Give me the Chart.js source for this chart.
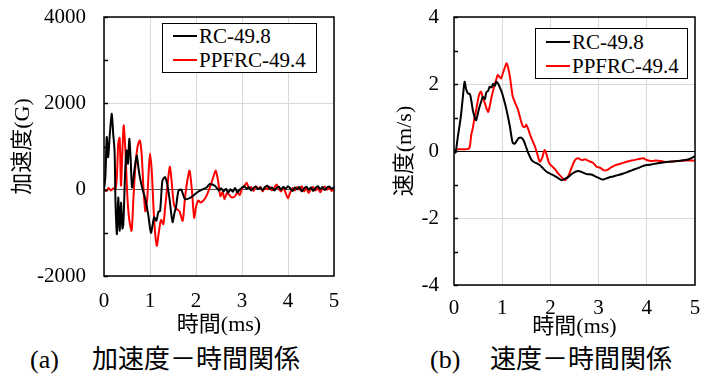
<!DOCTYPE html>
<html>
<head>
<meta charset="utf-8">
<script src="https://cdn.jsdelivr.net/npm/chart.js@4.4.1/dist/chart.umd.min.js"></script>
<style>
  body { margin: 0; background: #fff; width: 712px; height: 380px; position: relative; overflow: hidden;
         font-family: "Liberation Serif", "Noto Sans CJK JP", serif; color: #000; }
  canvas { position: absolute; top: 0; }
  #accChart { left: 0; }
  #velChart { left: 360px; }
  .legend { position: absolute; border: 1px solid #000; background: #fff; font-size: 21px; box-sizing: border-box; }
  .legend div { height: 24px; line-height: 24px; display: flex; align-items: center; white-space: nowrap; }
  .legend span.ln { display: inline-block; width: 24px; height: 2px; margin-right: 2px; }
  .cap { position: absolute; top: 344px; font-size: 26px; line-height: 32px; white-space: nowrap; }
</style>
</head>
<body>
<canvas id="accChart" width="350" height="340"></canvas>
<canvas id="velChart" width="350" height="340"></canvas>

<div class="legend" style="left:162px;top:23px;width:155px;height:50px;padding:0 0 0 10px;">
  <div><span class="ln" style="background:#000"></span>RC-49.8</div>
  <div><span class="ln" style="background:#ff0000"></span>PPFRC-49.4</div>
</div>
<div class="legend" style="left:535px;top:28px;width:153px;height:51px;padding:1px 0 0 10px;">
  <div><span class="ln" style="background:#000"></span>RC-49.8</div>
  <div><span class="ln" style="background:#ff0000"></span>PPFRC-49.4</div>
</div>

<div class="cap" style="left:30px;">(a)</div>
<div class="cap" style="left:92px;">加速度－時間関係</div>
<div class="cap" style="left:430px;">(b)</div>
<div class="cap" style="left:490px;">速度－時間関係</div>

<script>
// series labels
const seriesNames = ["RC-49.8", "PPFRC-49.4"];

// (a) acceleration (G) vs time (ms)
const accTimeRC = [0, 0.03, 0.06, 0.09, 0.13, 0.17, 0.2, 0.23, 0.25, 0.28, 0.31, 0.34, 0.37, 0.4, 0.42, 0.46, 0.49, 0.52, 0.55,
  0.58, 0.61, 0.66, 0.71, 0.75, 0.78, 0.84, 0.89, 0.96, 1.02, 1.06, 1.09, 1.14, 1.18, 1.22, 1.27, 1.33, 1.38, 1.42,
  1.49, 1.53, 1.57, 1.62, 1.68, 1.76, 1.85, 1.94, 2.03, 2.13, 2.23, 2.3, 2.41, 2.5, 2.55, 2.6,
  2.65, 2.7, 2.75, 2.8, 2.85, 2.9, 2.95, 3.0, 3.05, 3.1, 3.15, 3.2, 3.25, 3.3, 3.35, 3.4, 3.45, 3.5, 3.55, 3.6,
  3.65, 3.7, 3.75, 3.8, 3.85, 3.9, 3.95, 4.0, 4.05, 4.1, 4.15, 4.2, 4.25, 4.3, 4.35, 4.4, 4.45, 4.5, 4.55, 4.6,
  4.65, 4.7, 4.75, 4.8, 4.85, 4.9, 4.95, 5.0];
const accRC = [0, 300, 1220, 750, 1330, 1760, 1290, 900, -300, -1030, -180, -950, -300, -900, -800, 400, 910, 600, 1180,
  700, 50, 440, 790, 500, 290, 0, -180, -570, -1000, -800, -640, -720, -520, -490, 210, 290, 100, -180,
  -750, -550, -370, -20, 0, -220, -200, -140, -60, 0, 50, 130, 90, -20, 30, -40,
  20, -70, 10, -50, 40, -60, 0, 50, 80, 20, 60, -20, 40, 70, 10, 50, -10, 60, 90, 20,
  50, -20, 40, 70, 0, 60, 20, 80, 30, -30, 50, 10, 60, -40, 30, 70, 0, 50, -30, 40,
  80, 10, 60, -10, 50, 70, 20, 60];

const accTimePP = [0, 0.05, 0.1, 0.15, 0.2, 0.25, 0.28, 0.31, 0.34, 0.37, 0.4, 0.43, 0.47, 0.51, 0.55, 0.6, 0.64, 0.68, 0.73, 0.78,
  0.82, 0.86, 0.9, 0.94, 0.97, 1.0, 1.04, 1.08, 1.12, 1.15, 1.19, 1.24, 1.29, 1.33, 1.38, 1.43, 1.47, 1.52, 1.58, 1.64,
  1.71, 1.76, 1.81, 1.86, 1.91, 1.96, 2.0, 2.05, 2.1, 2.2, 2.3, 2.38, 2.43, 2.48, 2.53, 2.58, 2.62, 2.67, 2.72, 2.78,
  2.85, 2.9, 2.95, 3.0, 3.05, 3.1, 3.15, 3.2, 3.25, 3.3, 3.35, 3.4, 3.45, 3.5, 3.55, 3.6, 3.65, 3.7, 3.75, 3.8,
  3.85, 3.9, 3.95, 4.0, 4.05, 4.1, 4.15, 4.2, 4.25, 4.3, 4.35, 4.4, 4.45, 4.5, 4.55, 4.6, 4.65, 4.7, 4.75, 4.8,
  4.85, 4.9, 4.95, 5.0];
const accPP = [0, -30, 40, -20, 30, 20, 300, 1070, 1200, 100, 900, 1490, 800, -200, -700, -950, -200, 500, 1000, 1140,
  800, 0, -500, -200, 400, 840, 400, -500, -1100, -1300, -1000, -700, -800, -400, 100, 530, 200, -350, -450, -500,
  -720, -200, 200, 440, 0, -650, -400, -250, -300, -200, 50, 300, 440, 200, -150, -60, -220, -80, -120, -180,
  -150, -60, -120, 20, 80, 160, 40, 60, -30, 80, 20, 60, -40, 50, 10, 70, -20, 40, 120, 20,
  -40, 60, -80, -200, -60, 40, -20, 60, 0, 80, -40, 30, -80, 20, 60, -20, 40, -60, 30, 70,
  0, 50, -30, 40];

// (b) velocity (m/s) vs time (ms)
const velTimeRC = [0, 0.03, 0.05, 0.08, 0.12, 0.15, 0.19, 0.22, 0.25, 0.29, 0.33, 0.36, 0.39, 0.43, 0.46, 0.5, 0.53, 0.57, 0.6, 0.64,
  0.67, 0.71, 0.74, 0.78, 0.81, 0.85, 0.88, 0.92, 0.95, 0.98, 1.02, 1.06, 1.09, 1.13, 1.16, 1.19, 1.22, 1.26, 1.3, 1.35,
  1.4, 1.45, 1.5, 1.54, 1.6, 1.65, 1.72, 1.78, 1.85, 1.92, 2.0, 2.06, 2.15, 2.23, 2.3, 2.37, 2.45, 2.52, 2.58, 2.65,
  2.75, 2.85, 2.95, 3.05, 3.1, 3.2, 3.3, 3.4, 3.5, 3.58, 3.7, 3.8, 3.9, 4.0, 4.1, 4.2, 4.3, 4.4, 4.55, 4.7,
  4.8, 4.9, 5.0];
const velRC = [0, -0.05, 0.1, 0.43, 0.8, 1.13, 1.7, 2.07, 1.85, 1.72, 1.7, 1.5, 1.22, 1.0, 0.92, 1.15, 1.32, 1.5, 1.62, 1.55,
  1.75, 1.8, 1.92, 1.9, 2.0, 1.95, 2.07, 2.0, 1.9, 1.8, 1.62, 1.4, 1.22, 0.95, 0.73, 0.45, 0.24, 0.22, 0.3, 0.39,
  0.39, 0.3, 0.1, -0.06, -0.25, -0.32, -0.37, -0.42, -0.52, -0.62, -0.68, -0.72, -0.8, -0.87, -0.83, -0.78, -0.68, -0.62, -0.6, -0.63,
  -0.69, -0.7, -0.77, -0.84, -0.85, -0.8, -0.76, -0.72, -0.68, -0.64, -0.57, -0.52, -0.46, -0.42, -0.4, -0.37, -0.35, -0.33, -0.31, -0.29,
  -0.27, -0.23, -0.15];

const velTimePP = [0, 0.05, 0.1, 0.2, 0.3, 0.33, 0.36, 0.39, 0.42, 0.46, 0.5, 0.53, 0.56, 0.6, 0.64, 0.68, 0.71, 0.75, 0.78, 0.82,
  0.85, 0.88, 0.91, 0.95, 0.98, 1.02, 1.05, 1.09, 1.12, 1.16, 1.19, 1.22, 1.28, 1.33, 1.38, 1.43, 1.47, 1.5, 1.54, 1.58,
  1.63, 1.68, 1.73, 1.78, 1.83, 1.88, 1.92, 1.97, 2.03, 2.1, 2.16, 2.23, 2.3, 2.37, 2.44, 2.51, 2.58, 2.65, 2.72, 2.8,
  2.88, 2.96, 3.03, 3.1, 3.17, 3.25, 3.35, 3.45, 3.58, 3.7, 3.8, 3.93, 4.0, 4.1, 4.2, 4.3, 4.41, 4.6, 4.8, 5.0];
const velPP = [0, 0.05, 0.05, 0.05, 0.06, 0.15, 0.5, 0.68, 0.95, 1.22, 1.55, 1.72, 1.77, 1.6, 1.43, 1.25, 1.17, 1.4, 1.62, 1.85,
  2.02, 2.15, 2.27, 2.2, 2.17, 2.35, 2.47, 2.62, 2.5, 2.22, 1.9, 1.62, 1.4, 1.22, 0.95, 0.73, 0.72, 0.78, 0.65, 0.48,
  0.3, 0.13, -0.1, -0.32, -0.2, 0.03, -0.1, -0.35, -0.45, -0.55, -0.67, -0.78, -0.87, -0.75, -0.5, -0.27, -0.22, -0.27, -0.25, -0.3,
  -0.35, -0.47, -0.5, -0.57, -0.57, -0.5, -0.42, -0.38, -0.32, -0.28, -0.25, -0.22, -0.27, -0.3, -0.28, -0.3, -0.33, -0.3, -0.28, -0.29];

const timeTicks = [0, 1, 2, 3, 4, 5];

const toPoints = (xs, ys) => xs.map((x, i) => ({ x: x, y: ys[i] }));

// outer frame + short inward ticks on the y axis
const frame = {
  id: 'frame',
  afterDatasetsDraw(chart) {
    const { ctx, chartArea: a, scales } = chart;
    ctx.save();
    ctx.strokeStyle = '#000';
    ctx.lineWidth = 1.5;
    ctx.strokeRect(a.left, a.top, a.right - a.left, a.bottom - a.top);
    scales.y.ticks.forEach(t => {
      const py = Math.round(scales.y.getPixelForValue(t.value)) + 0.5;
      ctx.beginPath();
      ctx.moveTo(a.left, py);
      ctx.lineTo(a.left + 4, py);
      ctx.stroke();
    });
    ctx.restore();
  }
};

const fam = '"Liberation Serif", "Noto Sans CJK JP", serif';
const tickFont = { family: fam, size: 21 };
const titleFont = { family: fam, size: 22 };

function makeChart(id, o) {
  return new Chart(document.getElementById(id), {
    type: 'line',
    data: {
      datasets: [
        { label: seriesNames[0], data: o.rc, borderColor: '#000000', borderWidth: 2, pointRadius: 0, tension: 0.25 },
        { label: seriesNames[1], data: o.pp, borderColor: '#ff0000', borderWidth: 2, pointRadius: 0, tension: 0.25 }
      ]
    },
    options: {
      responsive: false,
      animation: false,
      layout: { padding: { left: o.padLeft, right: o.padRight, top: 17, bottom: 0 } },
      plugins: { legend: { display: false }, tooltip: { enabled: false } },
      scales: {
        x: {
          type: 'linear', min: 0, max: 5,
          afterBuildTicks: s => { s.ticks = timeTicks.map(v => ({ value: v })); },
          afterFit: s => { s.height = o.xHeight; s.paddingLeft = 0; s.paddingRight = 0; },
          ticks: { font: tickFont, color: '#000', padding: o.xTickPad, maxRotation: 0 },
          grid: { color: '#d9d9d9', drawTicks: false },
          border: { display: false },
          title: { display: true, text: '時間(ms)', font: titleFont, color: '#000', padding: { top: 0, bottom: o.xTitlePad } }
        },
        y: {
          min: o.yMin, max: o.yMax,
          ticks: {
            stepSize: o.yStep, font: tickFont, color: '#000', padding: o.yTickPad,
            callback: v => (v % o.labelEvery === 0 ? v : '')
          },
          afterFit: s => { s.width = o.yWidth; s.paddingTop = 0; s.paddingBottom = 0; },
          grid: {
            drawTicks: false,
            color: c => {
              const v = c.tick.value;
              if (v === 0) return o.zeroColor;
              return v % o.labelEvery === 0 ? '#d9d9d9' : 'rgba(0,0,0,0)';
            }
          },
          border: { display: false },
          title: { display: true, text: o.yTitle, font: titleFont, color: '#000', padding: 0 }
        }
      }
    },
    plugins: [frame]
  });
}

makeChart('accChart', {
  rc: toPoints(accTimeRC, accRC), pp: toPoints(accTimePP, accPP),
  yMin: -2000, yMax: 4000, yStep: 1000, labelEvery: 2000,
  yTitle: '加速度(G)', zeroColor: '#555555',
  padLeft: 10, padRight: 16, yWidth: 94, yTickPad: 18, xHeight: 64, xTickPad: 13, xTitlePad: 2
});

makeChart('velChart', {
  rc: toPoints(velTimeRC, velRC), pp: toPoints(velTimePP, velPP),
  yMin: -4, yMax: 4, yStep: 1, labelEvery: 2,
  yTitle: '速度(m/s)', zeroColor: '#000000',
  padLeft: 32, padRight: 15, yWidth: 62, yTickPad: 15, xHeight: 55, xTickPad: 11, xTitlePad: 0
});
</script>
</body>
</html>
